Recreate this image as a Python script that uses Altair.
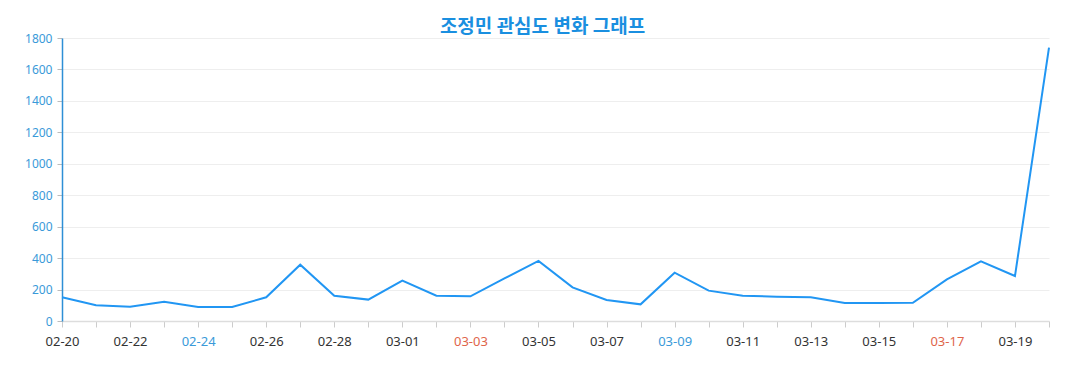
import altair as alt
import pandas as pd

dates = ["02-20", "02-21", "02-22", "02-23", "02-24", "02-25", "02-26", "02-27", "02-28", "02-29",
         "03-01", "03-02", "03-03", "03-04", "03-05", "03-06", "03-07", "03-08", "03-09", "03-10",
         "03-11", "03-12", "03-13", "03-14", "03-15", "03-16", "03-17", "03-18", "03-19", "03-20"]
values = [151, 100, 91, 123, 89, 89, 151, 358, 161, 136,
          257, 161, 157, 271, 382, 214, 134, 106, 307, 193,
          161, 155, 151, 114, 114, 116, 265, 380, 286, 1739]
y_ticks = [0, 200, 400, 600, 800, 1000, 1200, 1400, 1600, 1800]
blue_labels = ["02-24", "03-09"]
red_labels = ["03-03", "03-17"]

df = pd.DataFrame({"date": dates, "value": values})

label_color_expr = (
    "indexof(" + str(blue_labels) + ", datum.value) >= 0 ? '#3a9ad9' : "
    "(indexof(" + str(red_labels) + ", datum.value) >= 0 ? '#e0654a' : '#333333')"
)

chart = alt.Chart(df).mark_line(color="#2196f3", strokeWidth=2).encode(
    x=alt.X(
        "date:O",
        sort=dates,
        scale=alt.Scale(type="point", padding=0),
        axis=alt.Axis(
            title=None,
            labelAngle=0,
            labelFont="Noto Sans",
            labelFontSize=13,
            labelColor=alt.ExprRef(label_color_expr),
            labelExpr="indexof(" + str(dates) + ", datum.value) % 2 == 0 ? datum.value : ''",
            labelPadding=8,
            tickSize=6,
            tickColor="#cccccc",
            domainColor="#dddddd",
            domainWidth=1.5,
            grid=False,
            labelOverlap=False,
        ),
    ),
    y=alt.Y(
        "value:Q",
        scale=alt.Scale(domain=[0, 1800], nice=False),
        axis=alt.Axis(
            title=None,
            values=y_ticks,
            format="d",
            labelFont="Noto Sans",
            labelFontSize=12,
            labelColor="#3a9ad9",
            labelPadding=5,
            tickSize=5,
            tickColor="#bbbbbb",
            domainColor="#2e8fd6",
            domainWidth=1.5,
            gridColor="#eeeeee",
            gridWidth=1,
        ),
    ),
).properties(
    width=987,
    height=283,
    title=alt.TitleParams(
        "조정민 관심도 변화 그래프",
        font="Noto Sans CJK KR",
        fontSize=19,
        fontWeight="bold",
        color="#1a8fe0",
        anchor="middle",
        dx=-13,
        offset=-5,
    ),
    padding={"left": 16, "top": 10, "right": 5, "bottom": 5},
).configure_view(stroke=None)

chart.save("out.html", embed_options={"renderer": "svg", "actions": False})
